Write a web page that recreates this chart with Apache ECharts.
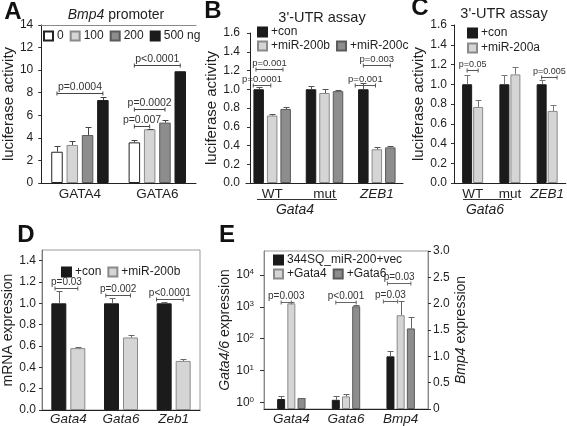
<!DOCTYPE html>
<html><head><meta charset="utf-8">
<script src="https://cdn.jsdelivr.net/npm/echarts@6/dist/echarts.min.js"></script>
<style>html,body{margin:0;padding:0;background:#fff}#c{width:567px;height:426px}</style>
</head><body><div id="c"></div>
<script>
// ================= DATA =================
// Panel A – Bmp4 promoter luciferase activity
const A_CATEGORIES = ['GATA4', 'GATA6'];
const A_SERIES_NAMES = ['0', '100', '200', '500 ng'];
const A_DOSE_0 = [2.77, 3.6];
const A_DOSE_100 = [3.37, 4.76];
const A_DOSE_200 = [4.25, 5.35];
const A_DOSE_500 = [7.35, 9.9];
const A_ERR_0 = [3.28, 3.8];
const A_ERR_100 = [3.72, 4.8];
const A_ERR_200 = [4.99, 5.55];
const A_ERR_500 = [7.59, 9.9];
const A_P_LABELS = ['p=0.0004', 'p<0.0001', 'p=0.0002', 'p=0.007'];
const A_P_CAT = [0, 1, 1, 1];
const A_P_FROM = [0, 0, 0, 0];
const A_P_TO = [3, 3, 2, 1];
const A_P_HEIGHT = [7.95, 10.45, 6.6, 5.05];

// Panel B – 3'-UTR assay (Gata4)
const B_CATEGORIES = ['WT', 'mut', 'ZEB1'];
const B_SERIES_NAMES = ['+con', '+miR-200b', '+miR-200c'];
const B_CON = [1.0, 1.0, 1.0];
const B_MIR200B = [0.72, 0.96, 0.36];
const B_MIR200C = [0.79, 0.98, 0.38];
const B_CON_ERR = [1.02, 1.03, 1.063];
const B_MIR200B_ERR = [0.74, 1.0, 0.38];
const B_MIR200C_ERR = [0.81, 0.99, 0.39];
const B_P_LABELS = ['p=0.001', 'p=0.0001', 'p=0.003', 'p=0.001'];
const B_P_CAT = [0, 0, 2, 2];
const B_P_FROM = [-0.2, -0.4, 0, -0.6];
const B_P_TO = [1.8, 0.9, 2, 0.9];
const B_P_HEIGHT = [1.22, 1.045, 1.26, 1.05];

// Panel C – 3'-UTR assay (Gata6)
const C_CATEGORIES = ['WT', 'mut', 'ZEB1'];
const C_SERIES_NAMES = ['+con', '+miR-200a'];
const C_CON = [1.0, 1.0, 1.0];
const C_MIR200A = [0.77, 1.1, 0.73];
const C_CON_ERR = [1.09, 1.09, 1.04];
const C_MIR200A_ERR = [0.84, 1.17, 0.79];
const C_P_LABELS = ['p=0.05', 'p=0.005'];
const C_P_CAT = [0, 2];
const C_P_FROM = [0, 0];
const C_P_TO = [1, 1.4];
const C_P_HEIGHT = [1.14, 1.07];

// Panel D – mRNA expression
const D_CATEGORIES = ['Gata4', 'Gata6', 'Zeb1'];
const D_SERIES_NAMES = ['+con', '+miR-200b'];
const D_CON = [1.0, 1.0, 1.0];
const D_MIR200B = [0.58, 0.68, 0.46];
const D_CON_ERR = [1.12, 1.05, 1.01];
const D_MIR200B_ERR = [0.59, 0.70, 0.48];
const D_TICKS = [0, 0.2, 0.4, 0.6, 0.8, 1.0, 1.2, 1.4];
const D_P_LABELS = ['p=0.03', 'p=0.002', 'p<0.0001'];
const D_P_CAT = [0, 1, 2];
const D_P_FROM = [-0.2, -0.3, -0.4];
const D_P_TO = [1, 1, 1];
const D_P_HEIGHT = [1.14, 1.08, 1.04];

// Panel E – Gata4/6 (log, left) and Bmp4 (linear, right) expression
const E_CATEGORIES = ['Gata4', 'Gata6', 'Bmp4'];
const E_SERIES_NAMES = ['344SQ_miR-200+vec', '+Gata4', '+Gata6'];
const E_VEC_GATA = [1.27, 1.2];
const E_GATA4_GATA = [1300, 1.53];
const E_GATA6_GATA = [1.36, 1050];
const E_VEC_GATA_ERR = [1.53, 1.53];
const E_GATA4_GATA_ERR = [1400, 1.8];
const E_GATA6_GATA_ERR = [1.36, 1170];
const E_BMP4 = [1.0, 1.78, 1.53];       // vec, +Gata4, +Gata6
const E_BMP4_ERR = [1.10, 2.05, 1.74];
const E_LEFT_EXPONENTS = [0, 1, 2, 3, 4];
const E_RIGHT_TICKS = [0, 0.5, 1.0, 1.5, 2.0, 2.5, 3.0];
const E_PL_LABELS = ['p=0.003', 'p<0.001'];
const E_PL_CAT = [0, 1];
const E_PL_FROM = [0, 0];
const E_PL_TO = [1, 2];
const E_PL_HEIGHT = [1480, 1480];
const E_PR_LABELS = ['p=0.03', 'p=0.03'];
const E_PR_FROM = [-0.7, -0.3];
const E_PR_TO = [0.7, 2];
const E_PR_HEIGHT = [2.06, 2.40];

// ================= STYLE / LAYOUT =================
const FF = '"Liberation Sans", Arial, Helvetica, sans-serif';
const INK = '#1f1f1f';
const ST_WHITE = { color: '#ffffff', borderColor: '#222', borderWidth: 1 };
const ST_LIGHT = { color: '#d5d5d5', borderColor: '#8a8a8a', borderWidth: 1 };
const ST_MID = { color: '#8d8d8d', borderColor: '#5a5a5a', borderWidth: 1 };
const ST_BLACK = { color: '#1b1b1b', borderColor: '#1b1b1b', borderWidth: 1 };
const L = {
  A: { grid: { left: 39, top: 25, width: 157, height: 158 }, n: 4, w: 11.5, gap: 3.8 },
  B: { grid: { left: 246, top: 33, width: 157, height: 150 }, n: 3, w: 10.5, gap: 3 },
  C: { grid: { left: 454, top: 25, width: 112, height: 158 }, n: 2, w: 10, gap: 1 },
  D: { grid: { left: 42, top: 250, width: 158, height: 160 }, n: 2, w: 15, gap: 4 },
  E: { grid: { left: 264, top: 251, width: 164, height: 159 }, n: 3, w: 8, gap: 2.2 }
};
const E_LOG_FLOOR = -0.21, E_LOG_CEIL = 4.76;
const toLogAxis = v => Math.log10(v) - E_LOG_FLOOR;

function barOffset(n, w, gap, i) { const total = n * w + (n - 1) * gap; return -total / 2 + i * (w + gap) + w / 2; }

function bar(name, data, xi, yi, style, P) {
  return { type: 'bar', name, data, xAxisIndex: xi, yAxisIndex: yi, barWidth: P.w,
    barGap: (P.gap / P.w * 100) + '%', itemStyle: style, emphasis: { disabled: true }, z: 2 };
}
function errSeries(items, xi, yi, P, color) {
  return { type: 'custom', xAxisIndex: xi, yAxisIndex: yi, silent: true, z: 5, data: items,
    encode: { x: 0, y: 3 },
    renderItem: (params, api) => {
      const cat = api.value(0), bi = api.value(1);
      const lo = api.coord([cat, api.value(2)]), hi = api.coord([cat, api.value(3)]);
      const x = Math.round(lo[0] + barOffset(P.n, P.w, P.gap, bi)) + 0.5;
      const yh = Math.round(hi[1]) + 0.5;
      return { type: 'group', children: [
        { type: 'line', shape: { x1: x, y1: lo[1], x2: x, y2: yh }, style: { stroke: color, lineWidth: 1 } },
        { type: 'line', shape: { x1: x - 3, y1: yh, x2: x + 3, y2: yh }, style: { stroke: color, lineWidth: 1 } }
      ] };
    } };
}
function pSeries(items, labels, xi, yi, P, fs, color) {
  return { type: 'custom', xAxisIndex: xi, yAxisIndex: yi, silent: true, z: 6, data: items,
    encode: { x: 0, y: 3 },
    renderItem: (params, api) => {
      const cat = api.value(0);
      const p = api.coord([cat, api.value(3)]);
      const x1 = p[0] + barOffset(P.n, P.w, P.gap, api.value(1));
      const x2 = p[0] + barOffset(P.n, P.w, P.gap, api.value(2));
      const y = Math.round(p[1]) + 0.5;
      return { type: 'group', children: [
        { type: 'line', shape: { x1: x1, y1: y, x2: x2, y2: y }, style: { stroke: color, lineWidth: 1 } },
        { type: 'line', shape: { x1: x1, y1: y - 2, x2: x1, y2: y + 2 }, style: { stroke: color, lineWidth: 1 } },
        { type: 'line', shape: { x1: x2, y1: y - 2, x2: x2, y2: y + 2 }, style: { stroke: color, lineWidth: 1 } },
        { type: 'text', x: (x1 + x2) / 2, y: y - 1, style: { text: labels[params.dataIndex], fill: '#333',
          fontSize: fs, fontFamily: FF, align: 'center', verticalAlign: 'bottom' } }
      ] };
    } };
}
function errItems(valueArrs, errArrs, cats, map) {
  const out = [];
  valueArrs.forEach((vals, i) => cats.forEach((c, k) => {
    if (vals[k] !== undefined) out.push([c, i, map(vals[k]), map(errArrs[i][k])]);
  }));
  return out;
}
function pItems(cats, from, to, heights, map) {
  return heights.map((h, i) => [cats[i], from[i], to[i], map(h)]);
}
const id = v => v;
function legend(names, left, top, extra) {
  return Object.assign({ data: names, left, top, padding: 0, itemWidth: 9, itemHeight: 9, itemGap: 6,
    icon: 'rect', selectedMode: false,
    textStyle: { fontSize: 12, fontFamily: FF, color: INK, padding: [0, 0, 0, -1] } }, extra || {});
}
function yAx(gi, o) {
  return {
    type: 'value', gridIndex: gi, min: o.min, max: o.max, interval: o.interval, position: o.position || 'left',
    offset: o.offset || 0,
    axisLine: { show: true, lineStyle: { color: o.lineColor || '#222', width: 1 } },
    axisTick: { show: true, length: o.tickLen || 3, lineStyle: { color: '#333' }, customValues: o.customValues },
    splitLine: { show: false },
    axisLabel: { color: INK, fontSize: 12, fontFamily: FF, margin: o.margin || 8, formatter: o.formatter,
      customValues: o.customValues, rich: o.rich },
    name: o.name, nameLocation: 'middle', nameRotate: 90, nameGap: o.nameGap,
    nameTextStyle: { color: INK, fontSize: o.nameSize || 15, fontFamily: FF, rich: o.nameRich }
  };
}
function xAx(gi, data, o) {
  o = o || {};
  return {
    type: 'category', gridIndex: gi, data, position: o.position || 'bottom', show: o.show !== false,
    axisLine: { show: true, lineStyle: { color: o.lineColor || '#222', width: 1 } },
    axisTick: { show: false },
    axisLabel: { show: o.labels !== false, interval: 0, color: INK, fontSize: 13.5, fontFamily: FF, margin: o.margin || 4,
      fontStyle: o.italic ? 'italic' : 'normal', formatter: o.formatter,
      rich: { i: { fontStyle: 'italic', fontSize: 13.5, fontFamily: FF, color: INK } } }
  };
}
const fix1 = v => v.toFixed(1);

const chart = echarts.init(document.getElementById('c'), null, { renderer: 'canvas', width: 567, height: 426 });

const option = {
  animation: false,
  backgroundColor: '#fff',
  textStyle: { fontFamily: FF },
  grid: [
    Object.assign({}, L.A.grid),
    Object.assign({}, L.B.grid),
    Object.assign({}, L.C.grid),
    Object.assign({ show: true, borderColor: '#9a9a9a', borderWidth: 1 }, L.D.grid),
    Object.assign({ show: true, borderColor: '#9a9a9a', borderWidth: 1 }, L.E.grid)
  ],
  xAxis: [
    xAx(0, A_CATEGORIES),
    xAx(0, A_CATEGORIES, { position: 'top', labels: false, lineColor: '#8a8a8a' }),
    xAx(1, B_CATEGORIES, { formatter: v => v === 'ZEB1' ? '{i|ZEB1}' : v }),
    xAx(2, C_CATEGORIES, { formatter: v => v === 'ZEB1' ? '{i|ZEB1}' : v }),
    xAx(3, D_CATEGORIES, { italic: true, margin: 2 }),
    xAx(4, E_CATEGORIES, { italic: true, margin: 3 }),
    xAx(4, E_CATEGORIES, { show: false })
  ],
  yAxis: [
    yAx(0, { min: 0, max: 14, interval: 2, name: 'luciferase activity', nameGap: 18 }),
    yAx(1, { min: 0, max: 1.6, interval: 0.2, formatter: fix1, offset: -4, margin: 10, name: 'luciferase activity', nameGap: 26 }),
    yAx(2, { min: 0, max: 1.6, interval: 0.2, formatter: fix1, margin: 7, name: 'luciferase activity', nameGap: 24 }),
    yAx(3, { min: 0, max: 1.5, customValues: D_TICKS, formatter: fix1, margin: 6, lineColor: '#777',
      name: 'mRNA expression', nameGap: 23, nameSize: 14 }),
    yAx(4, { min: 0, max: E_LOG_CEIL - E_LOG_FLOOR, customValues: E_LEFT_EXPONENTS.map(k => k - E_LOG_FLOOR),
      tickLen: 4, margin: 10, lineColor: '#888',
      formatter: v => '{b|10}{s|' + Math.round(v + E_LOG_FLOOR) + '}',
      rich: { b: { fontSize: 12, fontFamily: FF, color: INK, lineHeight: 14 },
              s: { fontSize: 8, fontFamily: FF, color: INK, lineHeight: 9, verticalAlign: 'top' } },
      name: '{i|Gata4/6} expression', nameGap: 24, nameSize: 14,
      nameRich: { i: { fontStyle: 'italic', fontSize: 14, fontFamily: FF, color: INK } } }),
    yAx(4, { position: 'right', min: 0, max: 3, customValues: E_RIGHT_TICKS, lineColor: '#888', margin: 5,
      formatter: v => v === 0 ? '0' : v.toFixed(1),
      name: '{i|Bmp4} expression', nameGap: 26, nameSize: 14,
      nameRich: { i: { fontStyle: 'italic', fontSize: 14, fontFamily: FF, color: INK } } })
  ],
  legend: [
    legend(A_SERIES_NAMES, 43, 30),
    legend([B_SERIES_NAMES[0]], 257, 26),
    legend(B_SERIES_NAMES.slice(1), 257, 40),
    legend(C_SERIES_NAMES, 467, 27, { orient: 'vertical', itemGap: 3 }),
    legend(D_SERIES_NAMES, 61, 266),
    legend([E_SERIES_NAMES[0]], 273, 254),
    legend(E_SERIES_NAMES.slice(1), 273, 268)
  ],
  series: [
    // A
    bar(A_SERIES_NAMES[0], A_DOSE_0, 0, 0, ST_WHITE, L.A),
    bar(A_SERIES_NAMES[1], A_DOSE_100, 0, 0, ST_LIGHT, L.A),
    bar(A_SERIES_NAMES[2], A_DOSE_200, 0, 0, ST_MID, L.A),
    bar(A_SERIES_NAMES[3], A_DOSE_500, 0, 0, ST_BLACK, L.A),
    errSeries(errItems([A_DOSE_0, A_DOSE_100, A_DOSE_200, A_DOSE_500], [A_ERR_0, A_ERR_100, A_ERR_200, A_ERR_500], [0, 1], id), 0, 0, L.A, '#444'),
    pSeries(pItems(A_P_CAT, A_P_FROM, A_P_TO, A_P_HEIGHT, id), A_P_LABELS, 0, 0, L.A, 10.5, '#444'),
    // B
    bar(B_SERIES_NAMES[0], B_CON, 2, 1, ST_BLACK, L.B),
    bar(B_SERIES_NAMES[1], B_MIR200B, 2, 1, ST_LIGHT, L.B),
    bar(B_SERIES_NAMES[2], B_MIR200C, 2, 1, ST_MID, L.B),
    errSeries(errItems([B_CON, B_MIR200B, B_MIR200C], [B_CON_ERR, B_MIR200B_ERR, B_MIR200C_ERR], [0, 1, 2], id), 2, 1, L.B, '#555'),
    pSeries(pItems(B_P_CAT, B_P_FROM, B_P_TO, B_P_HEIGHT, id), B_P_LABELS, 2, 1, L.B, 9.5, '#555'),
    // C
    bar(C_SERIES_NAMES[0], C_CON, 3, 2, ST_BLACK, L.C),
    bar(C_SERIES_NAMES[1], C_MIR200A, 3, 2, ST_LIGHT, L.C),
    errSeries(errItems([C_CON, C_MIR200A], [C_CON_ERR, C_MIR200A_ERR], [0, 1, 2], id), 3, 2, L.C, '#777'),
    pSeries(pItems(C_P_CAT, C_P_FROM, C_P_TO, C_P_HEIGHT, id), C_P_LABELS, 3, 2, L.C, 9, '#555'),
    // D
    bar(D_SERIES_NAMES[0], D_CON, 4, 3, ST_BLACK, L.D),
    bar(D_SERIES_NAMES[1], D_MIR200B, 4, 3, ST_LIGHT, L.D),
    errSeries(errItems([D_CON, D_MIR200B], [D_CON_ERR, D_MIR200B_ERR], [0, 1, 2], id), 4, 3, L.D, '#666'),
    pSeries(pItems(D_P_CAT, D_P_FROM, D_P_TO, D_P_HEIGHT, id), D_P_LABELS, 4, 3, L.D, 10, '#555'),
    // E (Gata4/6 on log-scaled left axis)
    bar(E_SERIES_NAMES[0], E_VEC_GATA.map(toLogAxis).concat(['-']), 5, 4, ST_BLACK, L.E),
    bar(E_SERIES_NAMES[1], E_GATA4_GATA.map(toLogAxis).concat(['-']), 5, 4, ST_LIGHT, L.E),
    bar(E_SERIES_NAMES[2], E_GATA6_GATA.map(toLogAxis).concat(['-']), 5, 4, ST_MID, L.E),
    errSeries(errItems([E_VEC_GATA, E_GATA4_GATA, E_GATA6_GATA], [E_VEC_GATA_ERR, E_GATA4_GATA_ERR, E_GATA6_GATA_ERR], [0, 1], toLogAxis), 5, 4, L.E, '#666'),
    pSeries(pItems(E_PL_CAT, E_PL_FROM, E_PL_TO, E_PL_HEIGHT, toLogAxis), E_PL_LABELS, 5, 4, L.E, 10, '#666'),
    // E (Bmp4 on right axis)
    bar(E_SERIES_NAMES[0], ['-', '-', E_BMP4[0]], 6, 5, ST_BLACK, L.E),
    bar(E_SERIES_NAMES[1], ['-', '-', E_BMP4[1]], 6, 5, ST_LIGHT, L.E),
    bar(E_SERIES_NAMES[2], ['-', '-', E_BMP4[2]], 6, 5, ST_MID, L.E),
    errSeries(E_BMP4.map((v, i) => [2, i, v, E_BMP4_ERR[i]]), 6, 5, L.E, '#666'),
    pSeries(pItems([2, 2], E_PR_FROM, E_PR_TO, E_PR_HEIGHT, id), E_PR_LABELS, 6, 5, L.E, 10, '#666')
  ],
  graphic: [
    { type: 'text', x: 13, y: 12, style: { text: 'A', font: 'bold 24px ' + FF, fill: '#111', textAlign: 'center', textVerticalAlign: 'middle' } },
    { type: 'text', x: 213, y: 11, style: { text: 'B', font: 'bold 24px ' + FF, fill: '#111', textAlign: 'center', textVerticalAlign: 'middle' } },
    { type: 'text', x: 420, y: 8, style: { text: 'C', font: 'bold 24px ' + FF, fill: '#111', textAlign: 'center', textVerticalAlign: 'middle' } },
    { type: 'text', x: 26, y: 235, style: { text: 'D', font: 'bold 24px ' + FF, fill: '#111', textAlign: 'center', textVerticalAlign: 'middle' } },
    { type: 'text', x: 227, y: 235, style: { text: 'E', font: 'bold 24px ' + FF, fill: '#111', textAlign: 'center', textVerticalAlign: 'middle' } },
    { type: 'text', x: 116, y: 15, style: { text: '{i|Bmp4} promoter', font: '14px ' + FF, fill: INK, textAlign: 'center', textVerticalAlign: 'middle',
      rich: { i: { fontStyle: 'italic', fontSize: 14, fontFamily: FF, fill: INK } } } },
    { type: 'text', x: 322, y: 18, style: { text: "3'-UTR assay", font: '14.5px ' + FF, fill: INK, textAlign: 'center', textVerticalAlign: 'middle' } },
    { type: 'text', x: 504, y: 14, style: { text: "3'-UTR assay", font: '14.5px ' + FF, fill: INK, textAlign: 'center', textVerticalAlign: 'middle' } },
    { type: 'line', shape: { x1: 257, y1: 199.5, x2: 337, y2: 199.5 }, style: { stroke: '#333', lineWidth: 1 } },
    { type: 'text', x: 295, y: 210, style: { text: 'Gata4', font: 'italic 14px ' + FF, fill: INK, textAlign: 'center', textVerticalAlign: 'middle' } },
    { type: 'line', shape: { x1: 463, y1: 199.5, x2: 512, y2: 199.5 }, style: { stroke: '#333', lineWidth: 1 } },
    { type: 'text', x: 485, y: 210, style: { text: 'Gata6', font: 'italic 14px ' + FF, fill: INK, textAlign: 'center', textVerticalAlign: 'middle' } }
  ]
};
chart.setOption(option);
</script>
</body></html>
